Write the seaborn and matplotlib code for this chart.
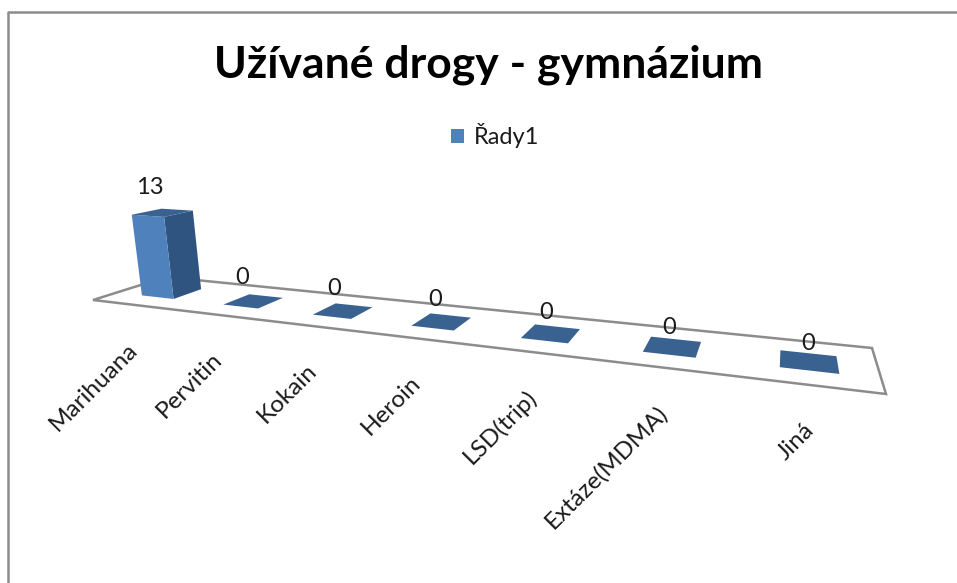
import numpy as np
import pandas as pd
import matplotlib
matplotlib.use("Agg")
import matplotlib.pyplot as plt
import seaborn as sns
from matplotlib.transforms import Transform, Affine2D
from matplotlib.patches import Polygon, Rectangle

categories = ["Marihuana", "Pervitin", "Kokain", "Heroin", "LSD(trip)", "Extáze(MDMA)", "Jiná"]
values = [13, 0, 0, 0, 0, 0, 0]
series_name = "Řady1"
title_text = "Užívané drogy - gymnázium"

sns.set_theme(style="white")
plt.rcParams["font.family"] = ["Lato", "DejaVu Sans"]

C_FRONT, C_SIDE, C_TOP = "#4f81bd", "#2f5480", "#3a6291"
C_LINE = "#8c8c8c"

# floor plane corners in pixels: front-left, front-right, back-right, back-left
FLOOR = np.array([[93, 300], [886, 394], [872, 348], [166, 277]], float)
UNIT = np.array([[0, 0], [1, 0], [1, 1], [0, 1]], float)


def homography(src, dst):
    rows, rhs = [], []
    for (u, v), (x, y) in zip(src, dst):
        rows.append([u, v, 1, 0, 0, 0, -u * x, -v * x]); rhs.append(x)
        rows.append([0, 0, 0, u, v, 1, -u * y, -v * y]); rhs.append(y)
    return np.append(np.linalg.solve(np.array(rows), np.array(rhs)), 1).reshape(3, 3)


H = homography(UNIT, FLOOR)
DEPTH = (0.30, 0.70)
BAR_W = 0.40
U_SHIFT = 0.53
N = len(categories)

# vertical column of the camera matrix, per value unit
_pairs = [((-BAR_W / 2, DEPTH[0]), (132, 215)), ((BAR_W / 2, DEPTH[0]), (163, 217)),
          ((BAR_W / 2, DEPTH[1]), (193, 211)), ((-BAR_W / 2, DEPTH[1]), (162, 208))]
_A, _b = [], []
for (dx, v), (px, py) in _pairs:
    X, Y, W = H @ np.array([(dx + U_SHIFT) / N, v, 1.0])
    _A.append([1, 0, -px]); _b.append(px * W - X)
    _A.append([0, 1, -py]); _b.append(py * W - Y)
VERT = np.linalg.lstsq(np.array(_A), np.array(_b), rcond=None)[0] / max(values)


def project(x, v, z):
    x, v, z = np.broadcast_arrays(np.asarray(x, float), np.asarray(v, float), np.asarray(z, float))
    p = np.stack([(x + U_SHIFT) / N, v, np.ones_like(x)], axis=-1) @ H.T + z[..., None] * VERT
    return p[..., :2] / p[..., 2:]


class FrontFace(Transform):
    input_dims = output_dims = 2
    is_affine = False
    has_inverse = False

    def transform_non_affine(self, values):
        values = np.asarray(values, float)
        return project(values[:, 0], DEPTH[0], values[:, 1])


fig = plt.figure(figsize=(9.57, 5.83), dpi=100, facecolor="white")
ax = fig.add_axes([0, 0, 1, 1])
pixel = Affine2D().scale(1 / 100, -1 / 100).translate(0, 5.83) + fig.dpi_scale_trans

df = pd.DataFrame({"kategorie": categories, "hodnota": values, "rada": series_name})
sns.barplot(data=df, x="kategorie", y="hodnota", hue="rada", palette=[C_FRONT], saturation=1,
            width=BAR_W, dodge=False, errorbar=None, ax=ax, zorder=3, linewidth=0)
ax.set_axis_off()

# chart frame
fig.add_artist(plt.Line2D([8, 8, 957], [583, 12, 12], transform=pixel, color=C_LINE, lw=1.8))

# floor
ax.add_patch(Polygon(FLOOR, closed=True, fill=False, edgecolor=C_LINE, lw=1.8,
                     transform=pixel, zorder=1, clip_on=False))

front = FrontFace() + pixel
for patch in list(ax.patches):
    if not isinstance(patch, Rectangle) or patch in ax.get_legend().get_patches():
        continue
    x0, w, z = patch.get_x(), patch.get_width(), patch.get_height()
    x1 = x0 + w
    vf, vb = DEPTH
    side = project([x1, x1, x1, x1], [vf, vb, vb, vf], [0, 0, z, z])
    top = project([x0, x1, x1, x0], [vf, vf, vb, vb], [z, z, z, z])
    ax.add_patch(Polygon(side, closed=True, fc=C_SIDE, ec="none", transform=pixel, zorder=2, clip_on=False))
    ax.add_patch(Polygon(top, closed=True, fc=C_TOP, ec="none", transform=pixel, zorder=4, clip_on=False))
    patch.set_transform(front)
    patch.set_clip_on(False)

# data labels and category labels, offset in pixels from the projected bars
for i, (cat, val) in enumerate(zip(categories, values)):
    lx, ly = project(i, 0.5, val)
    ax.text(lx - 13 + 2 * i, ly - 25 + 1.1 * i, str(val), transform=pixel, ha="center", va="center",
            fontsize=17, color="#1a1a1a", zorder=5, clip_on=False)
    tx, ty = project(i, 0.0, 0)
    ax.text(tx - 1 + 0.3 * i, ty + 41 + 0.1 * i, cat, transform=pixel, rotation=45, rotation_mode="anchor",
            ha="right", va="center", fontsize=17.5, color="#1a1a1a", zorder=5, clip_on=False)

ax.text(489, 65, title_text, transform=pixel, ha="center", va="center", fontsize=32,
        fontweight="bold", color="black", clip_on=False)

sns.move_legend(ax, "center", bbox_to_anchor=(495.5, 136), bbox_transform=pixel, frameon=False,
                title=None, fontsize=17, handlelength=0.55, handleheight=0.55, handletextpad=0.42,
                labelcolor="#1a1a1a")

fig.savefig("out.png", dpi=100)
